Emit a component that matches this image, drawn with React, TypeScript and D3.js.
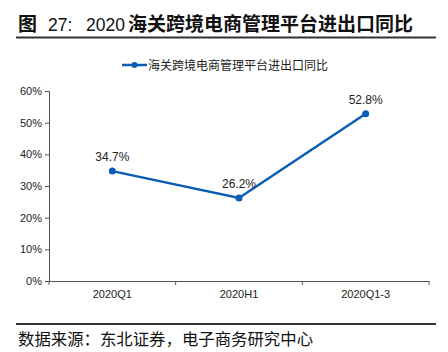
import { useEffect, useRef } from "react"
import * as d3 from "d3"

const categories = ["2020Q1", "2020H1", "2020Q1-3"]
const values = [34.7, 26.2, 52.8]
const yTicks = [0, 10, 20, 30, 40, 50, 60]
const seriesName = "海关跨境电商管理平台进出口同比"
const titleParts = ["图", "27:", "2020", "海关跨境电商管理平台进出口同比"]
const source = "数据来源：东北证券，电子商务研究中心"

const COLOR = "#0a5cb4"
const CJK = "'Noto Sans CJK SC', sans-serif"
const LATIN = "'Liberation Sans', Arial, sans-serif"

export default function App() {
  const ref = useRef<SVGSVGElement | null>(null)

  useEffect(() => {
    const svg = d3.select(ref.current)
    svg.selectAll("*").remove()

    const width = 448
    const height = 352
    const left = 49
    const right = 429
    const top = 91
    const bottom = 281

    svg.attr("width", width).attr("height", height)

    svg.append("rect").attr("width", width).attr("height", height).attr("fill", "#fff")

    // title, pieces placed one by one so the gaps stay
    const tx = [18, 48, 86, 128]
    const title = svg.append("text")
      .attr("y", 31)
      .attr("fill", "#111")
    titleParts.forEach((p, i) => {
      const latin = i === 1 || i === 2
      title.append("tspan")
        .attr("x", tx[i])
        .attr("font-family", latin ? LATIN : CJK)
        .attr("font-size", latin ? 17.5 : 19)
        .attr("font-weight", latin ? 400 : 700)
        .text(p)
    })

    svg.append("line")
      .attr("x1", 16).attr("x2", 436).attr("y1", 37.5).attr("y2", 37.5)
      .attr("stroke", "#333").attr("stroke-width", 2)

    // legend
    const lg = svg.append("g")
    lg.append("line").attr("x1", 122).attr("x2", 147).attr("y1", 65).attr("y2", 65)
      .attr("stroke", COLOR).attr("stroke-width", 2.5)
    lg.append("circle").attr("cx", 134.5).attr("cy", 65).attr("r", 3).attr("fill", COLOR)
    lg.append("text").attr("x", 148).attr("y", 69.5)
      .attr("font-family", CJK).attr("font-size", 12).attr("fill", "#222")
      .text(seriesName)

    const x = d3.scaleBand().domain(categories).range([left, right])
    const y = d3.scaleLinear().domain([0, 60]).range([bottom, top])

    // y axis
    const yAxis = svg.append("g")
      .attr("transform", `translate(${left},0)`)
      .call(d3.axisLeft(y).tickValues(yTicks).tickSize(4).tickFormat(d => `${d}%`))
    yAxis.select(".domain").attr("stroke", "#555")
    yAxis.selectAll(".tick line").attr("stroke", "#555")
    yAxis.selectAll("text")
      .attr("font-family", LATIN).attr("font-size", 11).attr("fill", "#222").attr("x", -7)

    // x axis
    const xAxis = svg.append("g")
      .attr("transform", `translate(0,${bottom})`)
      .call(d3.axisBottom(x).tickSize(0).tickSizeOuter(0))
    xAxis.select(".domain").attr("stroke", "#555")
    xAxis.selectAll("text")
      .attr("font-family", LATIN).attr("font-size", 11).attr("fill", "#222").attr("dy", "1.3em")
    const bounds = [...categories.map(c => x(c)!), right]
    xAxis.selectAll(".bound")
      .data(bounds)
      .enter()
      .append("line")
      .attr("x1", d => d).attr("x2", d => d)
      .attr("y1", 0).attr("y2", 4)
      .attr("stroke", "#555")

    const cx = (c: string) => x(c)! + x.bandwidth() / 2
    const data = categories.map((c, i) => ({ c, v: values[i] }))

    const line = d3.line<{ c: string; v: number }>()
      .x(d => cx(d.c))
      .y(d => y(d.v))

    svg.append("path")
      .datum(data)
      .attr("d", line)
      .attr("fill", "none")
      .attr("stroke", COLOR)
      .attr("stroke-width", 2.5)

    svg.selectAll(".pt")
      .data(data)
      .enter()
      .append("circle")
      .attr("cx", d => cx(d.c))
      .attr("cy", d => y(d.v))
      .attr("r", 3.5)
      .attr("fill", COLOR)

    svg.selectAll(".lbl")
      .data(data)
      .enter()
      .append("text")
      .attr("x", d => cx(d.c))
      .attr("y", d => y(d.v) - 10)
      .attr("text-anchor", "middle")
      .attr("font-family", LATIN).attr("font-size", 12).attr("fill", "#222")
      .text(d => `${d.v.toFixed(1)}%`)

    // footer
    svg.append("line")
      .attr("x1", 16).attr("x2", 436).attr("y1", 324).attr("y2", 324)
      .attr("stroke", "#333").attr("stroke-width", 2)
    svg.append("text")
      .attr("x", 18).attr("y", 345)
      .attr("font-family", CJK).attr("font-size", 16.4).attr("fill", "#111")
      .text(source)
  }, [])

  return <svg ref={ref} style={{ position: "absolute", left: 0, top: 0 }} />
}
